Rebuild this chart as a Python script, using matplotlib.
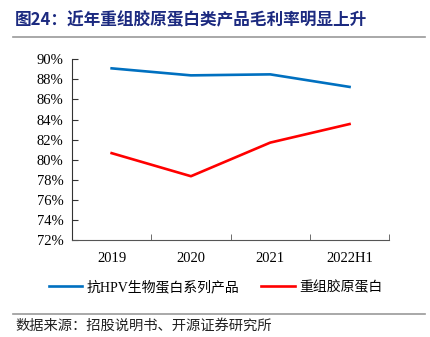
import matplotlib
matplotlib.use("Agg")
import matplotlib.pyplot as plt
from matplotlib.lines import Line2D

# data
years = ["2019", "2020", "2021", "2022H1"]
hpv_margin = [89.1, 88.4, 88.5, 87.25]
collagen_margin = [80.65, 78.35, 81.7, 83.55]
y_ticks = [72, 74, 76, 78, 80, 82, 84, 86, 88, 90]

title = "图24：近年重组胶原蛋白类产品毛利率明显上升"
source = "数据来源：招股说明书、开源证券研究所"
series_names = ["抗HPV生物蛋白系列产品", "重组胶原蛋白"]

plt.rcParams['font.family'] = ['Liberation Serif', 'Noto Sans CJK SC', 'DejaVu Sans']

fig = plt.figure(figsize=(4.31, 3.37), dpi=100)
ax = fig.add_axes([0.167, 0.288, 0.736, 0.536])

x = range(len(years))
ax.plot(x, hpv_margin, color="#0070C0", lw=1.9, label=series_names[0])
ax.plot(x, collagen_margin, color="#FF0000", lw=1.9, label=series_names[1])

ax.set_xlim(-0.5, len(years) - 0.5)
ax.set_ylim(72, 90)
ax.set_yticks(y_ticks)
ax.set_yticklabels([f"{v}%" for v in y_ticks])
ax.set_xticks(list(x))
ax.set_xticklabels(years)
ax.set_xticks([i - 0.5 for i in range(len(years) + 1)], minor=True)
ax.tick_params(axis="x", which="major", length=0, pad=9, labelsize=10.5)
ax.tick_params(axis="x", which="minor", direction="in", length=4, color="#555555")
ax.tick_params(axis="y", direction="in", length=4, pad=6, labelsize=10.5, color="#333333")
for s in ["top", "right"]:
    ax.spines[s].set_visible(False)
ax.spines["left"].set_color("#333333")
ax.spines["bottom"].set_color("#555555")

# title, rules and source
fig.text(0.035, 0.94, title, fontsize=12, fontweight="bold", color="#1C2A80",
         va="center", ha="left", family=['Noto Sans CJK SC'])
fig.add_artist(Line2D([0.03, 0.987], [0.891, 0.891], color="#999999", lw=1.2))
fig.add_artist(Line2D([0.03, 0.987], [0.068, 0.068], color="#999999", lw=1.2))
fig.text(0.035, 0.032, source, fontsize=10.3, color="#222222", va="center",
         ha="left", family=['Noto Sans CJK SC'])

fig.legend(loc="center", bbox_to_anchor=(0.5, 0.148), ncol=2, frameon=False,
           fontsize=10, handlelength=2.4, columnspacing=1.6, handletextpad=0.3)

fig.savefig("out.png", dpi=100)
